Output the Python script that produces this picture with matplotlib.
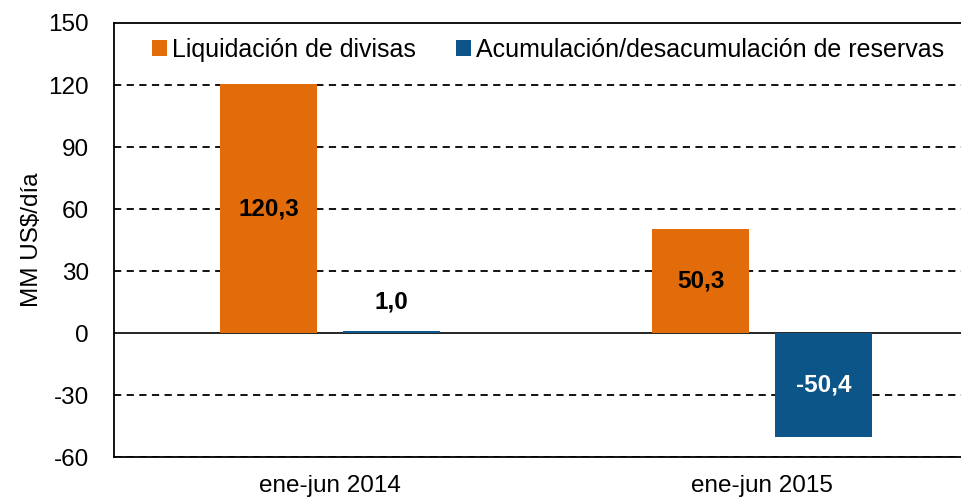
import numpy as np
import matplotlib as mpl
mpl.use('Agg')
import matplotlib.pyplot as plt

plt.rcParams['font.family'] = ['Liberation Sans', 'DejaVu Sans']

periodos = ['ene-jun 2014', 'ene-jun 2015']
liquidacion = [120.3, 50.3]
reservas = [1.0, -50.4]
series_names = ['Liquidación de divisas', 'Acumulación/desacumulación de reservas']
yticks = [-60, -30, 0, 30, 60, 90, 120, 150]

ORANGE = '#E36C0A'
BLUE = '#0B5589'

fig = plt.figure(figsize=(9.62, 4.99), dpi=100)
ax = fig.add_axes([114/962, 1 - 457/499, 864/962, 434/499])

x = np.arange(len(periodos))
w = 0.225
off = 0.142
b1 = ax.bar(x - off, liquidacion, w, color=ORANGE, label=series_names[0], zorder=3)
b2 = ax.bar(x + off, reservas, w, color=BLUE, label=series_names[1], zorder=3)

def fmt(v):
    return ('%.1f' % v).replace('.', ',')

for rect, v in zip(b1, liquidacion):
    ax.text(rect.get_x() + rect.get_width()/2, v/2, fmt(v), ha='center', va='center',
            fontsize=17.5, fontweight='bold', color='black', zorder=4)
for rect, v in zip(b2, reservas):
    if abs(v) < 10:
        ax.text(rect.get_x() + rect.get_width()/2, v + 14, fmt(v), ha='center', va='center',
                fontsize=17.5, fontweight='bold', color='black', zorder=4)
    else:
        ax.text(rect.get_x() + rect.get_width()/2, v/2, fmt(v), ha='center', va='center',
                fontsize=17.5, fontweight='bold', color='white', zorder=4)

ax.set_xlim(-0.5, 1.5)
ax.set_ylim(-60, 150)
ax.set_yticks(yticks)
ax.set_yticklabels([str(t) for t in yticks], fontsize=17.5)
ax.set_xticks(x)
ax.set_xticklabels(periodos, fontsize=17.5)
ax.tick_params(axis='x', length=0, pad=13)
ax.tick_params(axis='y', length=0, pad=18)

for t in yticks:
    if t == 0:
        ax.axhline(0, color='black', lw=1.2, zorder=2)
    elif t != 150:
        ax.axhline(t, color='black', lw=1.3, ls=(0, (4, 3)), zorder=1)

for s in ['left', 'top', 'bottom']:
    ax.spines[s].set_color('black')
    ax.spines[s].set_linewidth(1.3)
ax.spines['right'].set_visible(False)

ax.set_ylabel('MM US$/día', fontsize=17.5, labelpad=4)

leg = ax.legend(loc='upper left', bbox_to_anchor=(0.032, 0.988), ncol=2, frameon=False,
                fontsize=18, handlelength=0.6, handleheight=0.6, handletextpad=0.2,
                columnspacing=1.6, borderaxespad=0)

fig.savefig('out.png', dpi=100)
